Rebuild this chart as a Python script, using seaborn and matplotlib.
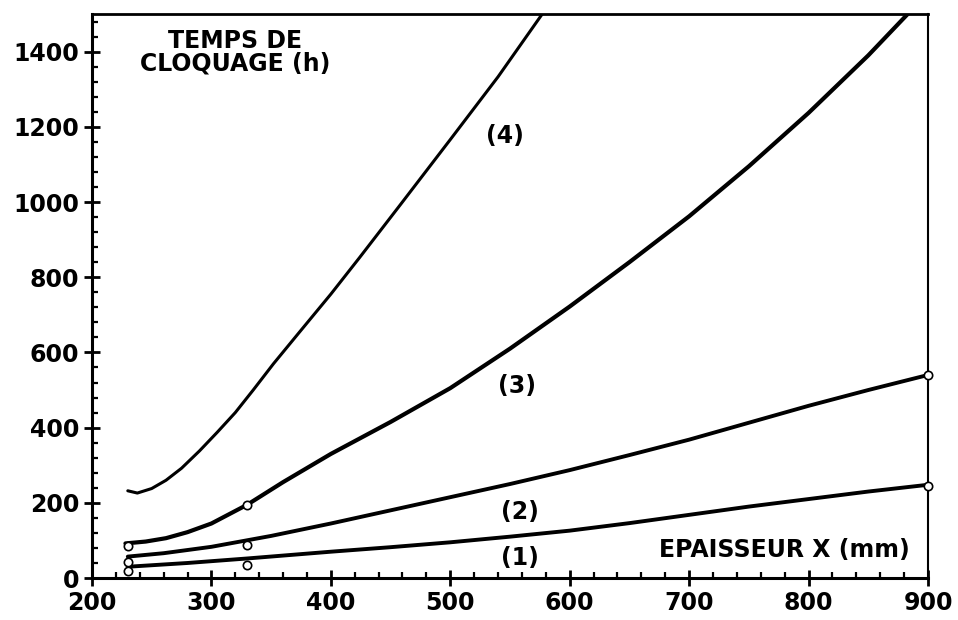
import matplotlib
matplotlib.use("Agg")
import matplotlib.pyplot as plt
import seaborn as sns
from matplotlib.ticker import MultipleLocator

# curve (1) .. (4): epaisseur X (mm) -> temps de cloquage (h)
x1 = [230, 280, 330, 400, 450, 500, 550, 600, 650, 700, 750, 800, 850, 900]
y1 = [30, 40, 52, 70, 82, 95, 110, 126, 146, 168, 190, 210, 230, 248]

x2 = [230, 260, 300, 350, 400, 450, 500, 550, 600, 650, 700, 750, 800, 850, 900]
y2 = [57, 66, 83, 112, 145, 180, 215, 250, 287, 327, 368, 413, 458, 500, 540]

x3 = [228, 245, 262, 280, 300, 330, 360, 400, 450, 500, 550, 600, 650, 700, 750, 800, 850, 883]
y3 = [92, 97, 106, 122, 145, 195, 255, 330, 415, 505, 610, 722, 840, 962, 1095, 1237, 1390, 1500]

x4 = [230, 238, 250, 262, 275, 290, 305, 320, 335, 352, 374, 400, 424, 458, 486, 500, 540, 577]
y4 = [232, 226, 238, 260, 292, 338, 388, 440, 500, 570, 655, 755, 852, 992, 1108, 1166, 1333, 1500]

# measured points (open circles)
pts_x = [230, 330, 900, 230, 330, 900, 230, 330]
pts_y = [18, 34, 246, 42, 88, 540, 86, 194]

curve_labels = ["(1)", "(2)", "(3)", "(4)"]
label_x = [558, 558, 556, 546]
label_y = [53, 175, 512, 1175]

sns.set_style("white")
plt.rcParams['font.family'] = ['DejaVu Sans']
plt.rcParams['text.color'] = 'black'
plt.rcParams['xtick.color'] = 'black'
plt.rcParams['ytick.color'] = 'black'

fig = plt.figure(figsize=(9.58, 6.2), dpi=100)
ax = fig.add_axes([0.096, 0.0677, 0.8727, 0.9097])

for xs, ys, lw in [(x1, y1, 2.8), (x2, y2, 2.8), (x3, y3, 3.0), (x4, y4, 2.2)]:
    sns.lineplot(x=xs, y=ys, ax=ax, color="black", linewidth=lw, sort=False,
                 solid_capstyle="round", zorder=3)

sns.scatterplot(x=pts_x, y=pts_y, ax=ax, marker="o", s=36, facecolor="white",
                edgecolor="black", linewidth=1.2, zorder=4, clip_on=False)

ax.set_xlim(200, 900)
ax.set_ylim(0, 1500)
ax.xaxis.set_major_locator(MultipleLocator(100))
ax.xaxis.set_minor_locator(MultipleLocator(20))
ax.yaxis.set_major_locator(MultipleLocator(200))
ax.yaxis.set_minor_locator(MultipleLocator(40))

ax.tick_params(axis="both", which="both", bottom=True, left=True, top=False, right=False)
ax.tick_params(axis="both", which="major", direction="inout", length=12, width=2,
               labelsize=17, colors="black", pad=3)
ax.tick_params(axis="both", which="minor", direction="in", length=4.5, width=1.6,
               colors="black")
for lab in ax.get_xticklabels() + ax.get_yticklabels():
    lab.set_fontweight("bold")

for side, w in [("left", 2.2), ("bottom", 2.2), ("top", 2.0), ("right", 1.5)]:
    ax.spines[side].set_visible(True)
    ax.spines[side].set_linewidth(w)
    ax.spines[side].set_color("black")

ax.set_xlabel("")
ax.set_ylabel("")

for t, tx, ty in zip(curve_labels, label_x, label_y):
    ax.text(tx, ty, t, fontsize=17, fontweight="bold", ha="center", va="center",
            color="black")

ax.text(320, 1398, "TEMPS DE\nCLOQUAGE (h)", fontsize=17, fontweight="bold",
        ha="center", va="center", linespacing=0.95, color="black")
ax.text(885, 74, "EPAISSEUR X (mm)", fontsize=17, fontweight="bold",
        ha="right", va="center", color="black")

fig.savefig("out.png", dpi=100, facecolor="white")
